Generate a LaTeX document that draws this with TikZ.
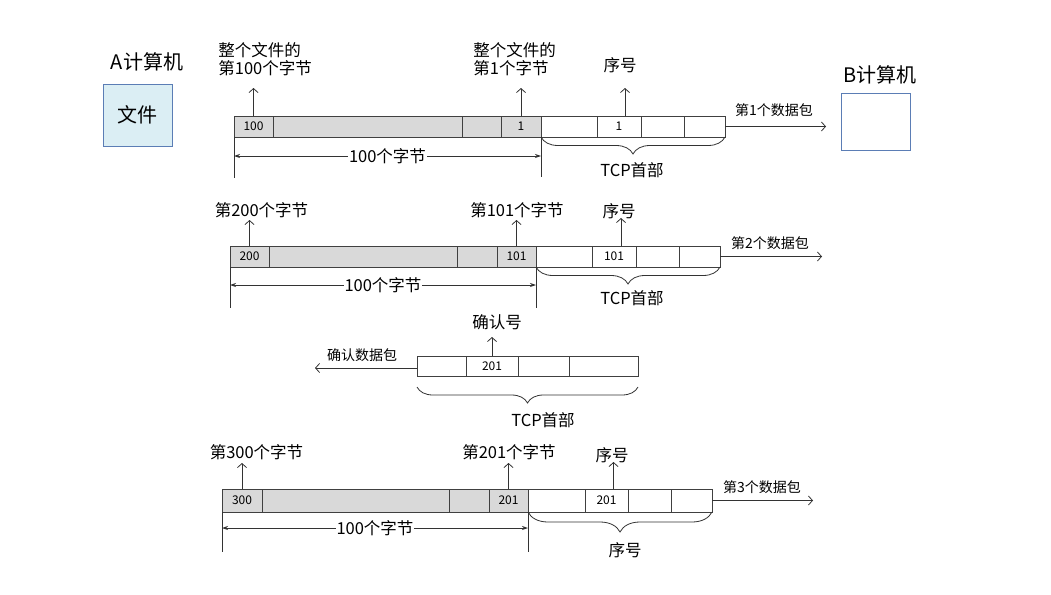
\documentclass[tikz,border=0pt]{standalone}
\usepackage{fontspec}
\setmainfont{Noto Sans CJK SC}
\usetikzlibrary{positioning,arrows.meta,decorations.pathreplacing}
\definecolor{cellgray}{HTML}{D9D9D9}
\definecolor{pcfill}{HTML}{DBEEF4}
\definecolor{pcline}{HTML}{5B7DB5}
\definecolor{linegray}{HTML}{404040}
\tikzset{
  cell/.style={draw=linegray, inner sep=0pt, outer sep=0pt, minimum height=21pt, font=\fontsize{12}{12}\selectfont},
  datacell/.style={cell, fill=cellgray},
  lbl/.style={inner sep=0pt, font=\fontsize{16.5}{18}\selectfont, align=left},
  small/.style={inner sep=0pt, font=\fontsize{14}{14}\selectfont},
  big/.style={inner sep=0pt, font=\fontsize{20}{20}\selectfont},
  dimline/.style={{Stealth[length=6pt,width=4pt]}-{Stealth[length=6pt,width=4pt]}},
  brc/.style={decorate, decoration={brace, mirror, amplitude=17pt}},
}
\begin{document}
\begin{tikzpicture}[x=1pt,y=-1pt,line width=0.8pt,draw=black!80,>={Straight Barb[length=4pt,width=9pt]}]
\useasboundingbox (0,0) rectangle (1051,594);
% the two computers
\node[big] (nameA) at (147,62) {A计算机};
\node[draw=pcline, fill=pcfill, minimum width=69pt, minimum height=62pt, font=\fontsize{20}{20}\selectfont] (fileA) at (137.5,115) {文件};
\node[big] (nameB) at (880,75) {B计算机};
\node[draw=pcline, minimum width=69pt, minimum height=57pt] (pcB) at (875.5,121.5) {};

% first packet
\foreach \a/\b/\t [count=\i] in {234/273/100,273/462/,462/501/,501/541/1}
  \node[datacell, minimum width=\b-\a] (p1d\i) at ({(\a+\b)/2},126.5) {\t};
\foreach \a/\b/\t [count=\i] in {541/597/,597/641/1,641/684/,684/725/}
  \node[cell, minimum width=\b-\a] (p1h\i) at ({(\a+\b)/2},126.5) {\t};
\draw[->] (p1d1.north) -- ++(0,-28);
\draw[->] (p1d4.north) -- ++(0,-28);
\draw[->] ([xshift=6pt]p1h2.north) -- ++(0,-28);
\node[lbl, anchor=west] (p1t1) at (218,59) {整个文件的\\第100个字节};
\node[lbl, anchor=west] (p1t2) at (473,59) {整个文件的\\第1个字节};
\node[lbl] (p1t3) at (620,65) {序号};
\draw[->] (p1h4.east) -- ++(101,0);
\node[small] (p1out) at (774,110) {第1个数据包};
\draw (p1d1.south west) -- ([yshift=-41pt]p1d1.south west);
\draw (p1h1.south west) -- ([yshift=-40pt]p1h1.south west);
\draw[dimline] ([yshift=-19pt]p1d1.south west) -- node[lbl, fill=white, inner sep=1pt] (p1n) {100个字节} ([yshift=-19pt]p1h1.south west);
\draw[brc] (p1h1.south west) -- (p1h4.south east);
\node[lbl] (p1b) at (632,170) {TCP首部};

% second packet
\foreach \a/\b/\t [count=\i] in {230/269/200,269/457/,457/497/,497/536/101}
  \node[datacell, minimum width=\b-\a] (p2d\i) at ({(\a+\b)/2},256.5) {\t};
\foreach \a/\b/\t [count=\i] in {536/592/,592/636/101,636/679/,679/720/}
  \node[cell, minimum width=\b-\a] (p2h\i) at ({(\a+\b)/2},256.5) {\t};
\draw[->] (p2d1.north) -- ++(0,-26);
\draw[->] (p2d4.north) -- ++(0,-26);
\draw[->] ([xshift=7pt]p2h2.north) -- ++(0,-28);
\node[lbl] (p2t1) at (261.5,210) {第200个字节};
\node[lbl] (p2t2) at (517,210) {第101个字节};
\node[lbl] (p2t3) at (619,211) {序号};
\draw[->] (p2h4.east) -- ++(102,0);
\node[small] (p2out) at (770,243) {第2个数据包};
\draw (p2d1.south west) -- ([yshift=-41pt]p2d1.south west);
\draw (p2h1.south west) -- ([yshift=-41pt]p2h1.south west);
\draw[dimline] ([yshift=-18pt]p2d1.south west) -- node[lbl, fill=white, inner sep=1pt] (p2n) {100个字节} ([yshift=-18pt]p2h1.south west);
\draw[brc] (p2h1.south west) -- (p2h4.south east);
\node[lbl] (p2b) at (632,298) {TCP首部};

% acknowledgement
\foreach \a/\b/\t [count=\i] in {417/466/,466/518/201,518/569/,569/638/}
  \node[cell, minimum height=20pt, minimum width=\b-\a] (ak\i) at ({(\a+\b)/2},366) {\t};
\draw[->] (ak2.north) -- ++(0,-19);
\node[lbl] (akt) at (497,322) {确认号};
\draw[->] ([yshift=-2pt]ak1.west) -- ++(-102,0);
\node[small] (akout) at (362,355) {确认数据包};
\draw[brc, decoration={amplitude=16pt}] ([yshift=-11pt]ak1.south west) -- ([yshift=-11pt]ak4.south east);
\node[lbl] (akb) at (543,420) {TCP首部};

% third packet
\foreach \a/\b/\t [count=\i] in {222/262/300,262/449/,449/489/,489/528/201}
  \node[datacell, minimum height=23pt, minimum width=\b-\a] (p3d\i) at ({(\a+\b)/2},500.5) {\t};
\foreach \a/\b/\t [count=\i] in {528/585/,585/628/201,628/671/,671/712/}
  \node[cell, minimum height=23pt, minimum width=\b-\a] (p3h\i) at ({(\a+\b)/2},500.5) {\t};
\draw[->] (p3d1.north) -- ++(0,-26);
\draw[->] (p3d4.north) -- ++(0,-26);
\draw[->] ([xshift=7pt]p3h2.north) -- ++(0,-27);
\node[lbl] (p3t1) at (256.5,452) {第300个字节};
\node[lbl] (p3t2) at (509,452) {第201个字节};
\node[lbl] (p3t3) at (612,455) {序号};
\draw[->] (p3h4.east) -- ++(101,0);
\node[small] (p3out) at (762,487) {第3个数据包};
\draw (p3d1.south west) -- ([yshift=-40pt]p3d1.south west);
\draw (p3h1.south west) -- ([yshift=-40pt]p3h1.south west);
\draw[dimline] ([yshift=-16pt]p3d1.south west) -- node[lbl, fill=white, inner sep=1pt] (p3n) {100个字节} ([yshift=-16pt]p3h1.south west);
\draw[brc, decoration={amplitude=20pt}] (p3h1.south west) -- (p3h4.south east);
\node[lbl] (p3b) at (625,550) {序号};
\end{tikzpicture}
\end{document}
